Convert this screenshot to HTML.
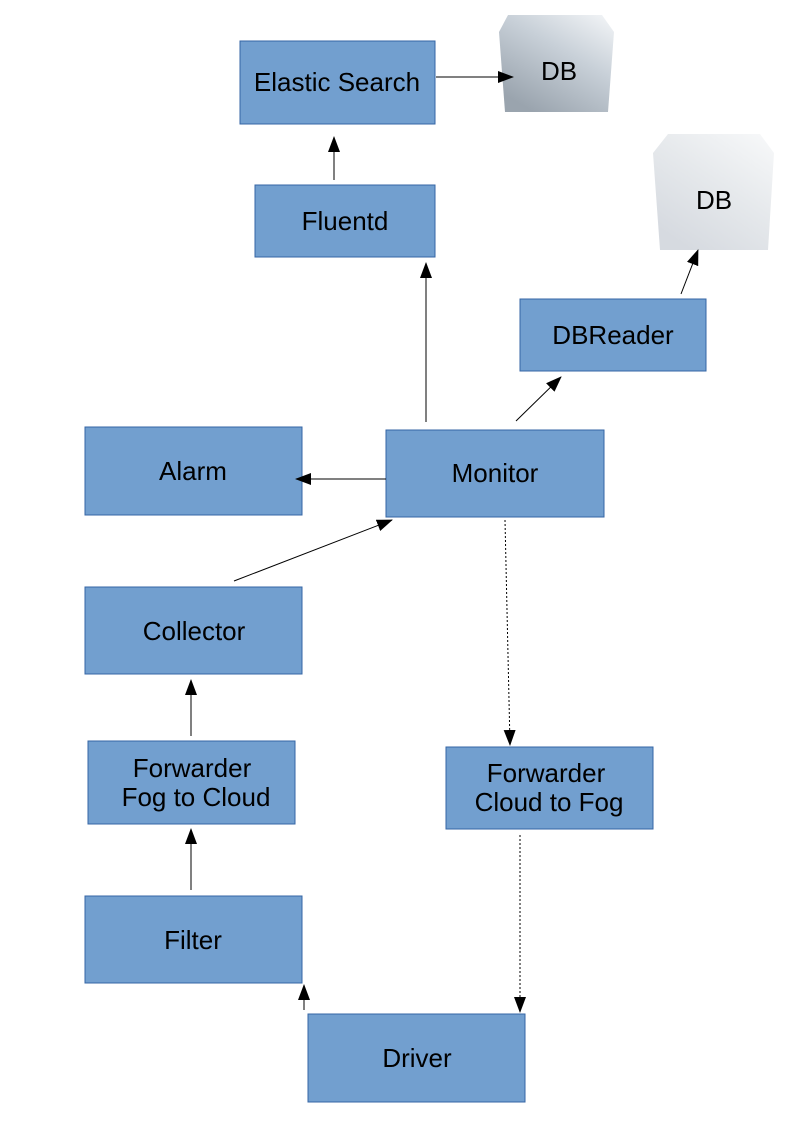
<!DOCTYPE html>
<html><head><meta charset="utf-8"><style>html,body{margin:0;padding:0;background:#fff}svg{display:block}</style></head>
<body>
<svg width="794" height="1123" viewBox="0 0 794 1123" xmlns="http://www.w3.org/2000/svg" font-family="Liberation Sans, sans-serif" font-size="26">
<defs>
<marker id="a" markerWidth="16" markerHeight="12" refX="15" refY="6" orient="auto" markerUnits="userSpaceOnUse"><path d="M0,0 L16,6 L0,12 z" fill="#000"/></marker>
<linearGradient id="g1" x1="1" y1="0" x2="0.3" y2="1"><stop offset="0" stop-color="#f4f6f8"/><stop offset="0.45" stop-color="#c8d0d8"/><stop offset="1" stop-color="#9aa4ae"/></linearGradient>
<linearGradient id="g2" x1="1" y1="0" x2="0.3" y2="1"><stop offset="0" stop-color="#f8f9fa"/><stop offset="0.5" stop-color="#e6e9ec"/><stop offset="1" stop-color="#d6dae0"/></linearGradient>
</defs>
<g fill="#729fcf" stroke="#3465a4" stroke-width="1">
<rect x="240" y="41" width="195" height="83"/>
<rect x="255" y="185" width="180" height="72"/>
<rect x="520" y="299" width="186" height="72"/>
<rect x="85" y="427" width="217" height="88"/>
<rect x="386" y="430" width="218" height="87"/>
<rect x="85" y="587" width="217" height="87"/>
<rect x="88" y="741" width="207" height="83"/>
<rect x="446" y="747" width="207" height="82"/>
<rect x="85" y="896" width="217" height="87"/>
<rect x="308" y="1014" width="217" height="88"/>
</g>
<polygon points="508,15 602,15 614,32 608,112 505,112 499,32" fill="url(#g1)"/>
<polygon points="668,134 760,134 774,153 768,250 660,250 653,153" fill="url(#g2)"/>
<g text-anchor="middle" fill="#000">
<text x="337" y="91">Elastic Search</text>
<text x="559" y="80">DB</text>
<text x="714" y="209">DB</text>
<text x="345" y="230">Fluentd</text>
<text x="613" y="344">DBReader</text>
<text x="193" y="480">Alarm</text>
<text x="495" y="482">Monitor</text>
<text x="194" y="640">Collector</text>
<text x="192" y="777">Forwarder</text>
<text x="196" y="806">Fog to Cloud</text>
<text x="546" y="782">Forwarder</text>
<text x="549" y="811">Cloud to Fog</text>
<text x="193" y="949">Filter</text>
<text x="417" y="1067">Driver</text>
</g>
<g stroke="#000" stroke-width="1" fill="none" marker-end="url(#a)">
<line x1="436" y1="77" x2="513" y2="77"/>
<line x1="334" y1="180" x2="334" y2="137"/>
<line x1="426" y1="422" x2="426" y2="263"/>
<line x1="516" y1="421" x2="561" y2="377"/>
<line x1="681" y1="294" x2="698" y2="250"/>
<line x1="386" y1="479" x2="296" y2="479"/>
<line x1="234" y1="581" x2="392" y2="520"/>
<line x1="191" y1="736" x2="191" y2="680"/>
<line x1="191" y1="890" x2="191" y2="829"/>
<line x1="304" y1="1010" x2="304" y2="985"/>
<line x1="505" y1="520" x2="510" y2="745" stroke-dasharray="2,2"/>
<line x1="520" y1="835" x2="520" y2="1012" stroke-dasharray="2,2"/>
</g>
</svg>
</body></html>
